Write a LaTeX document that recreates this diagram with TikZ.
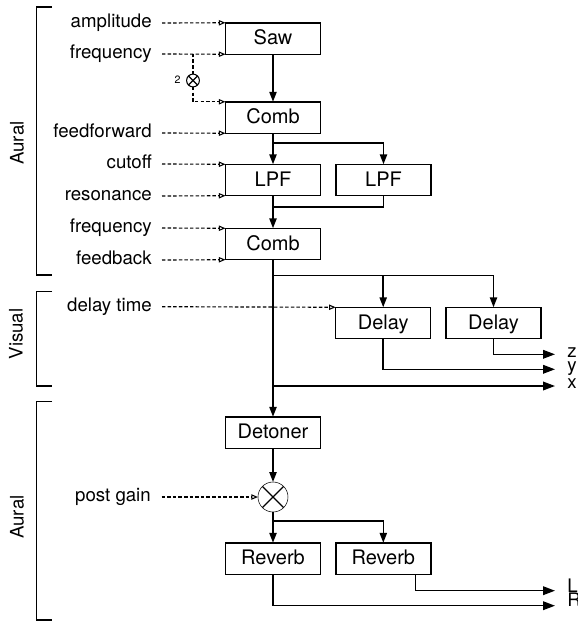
\documentclass[tikz,border=0pt]{standalone}
\usepackage{fontspec}
\setmainfont{TeX Gyre Heros}
\usetikzlibrary{arrows.meta}
\begin{document}
\begin{tikzpicture}[x=0.75pt,y=-0.75pt,
  lw/.style={line width=1.1pt},
  blk/.style={draw,lw,inner sep=0pt,outer sep=0pt,minimum width=71.25pt,minimum height=23.6pt,
     font=\fontsize{15}{17}\selectfont,text height=10.8pt,text depth=1.2pt},
  lbl/.style={inner sep=0pt,font=\fontsize{14}{16}\selectfont,text height=10pt,text depth=3pt},
  grp/.style={lbl,rotate=90},
  arr/.style={lw,-{Triangle[length=7.5pt,width=5.5pt]}},
  bigarr/.style={lw,-{Triangle[length=9pt,width=6.5pt]}},
  dashln/.style={line width=0.85pt,dash pattern=on 2.6pt off 1.6pt},
  dasharr/.style={dashln,-{Triangle[open,length=5pt,width=4pt,line width=0.8pt]}},
  mult/.style={circle,draw,inner sep=0pt,outer sep=0pt}
]
\useasboundingbox (0,0) rectangle (578,621);

% group brackets
\draw[lw] (52,7) -- (36.7,7) -- (36.7,275) -- (52,275);
\draw[lw] (52,291.7) -- (36.7,291.7) -- (36.7,386) -- (52,386);
\draw[lw] (52,401.7) -- (36.7,401.7) -- (36.7,620) -- (52,620);
\node[grp] (g1) at (19,143) {Aural};
\node[grp] (g2) at (18,334) {Visual};
\node[grp] (g3) at (19,517) {Aural};

% blocks
\node[blk] (saw) at (273,38.5) {Saw};
\node[blk] (comb1) at (273,117.5) {Comb};
\node[blk] (lpf1) at (273,180) {LPF};
\node[blk] (lpf2) at (383.5,180) {LPF};
\node[blk] (comb2) at (273,244) {Comb};
\node[blk] (delay1) at (383.2,323) {Delay};
\node[blk] (delay2) at (493.5,323) {Delay};
\node[blk] (detoner) at (273,432.5) {Detoner};
\node[blk] (reverb1) at (273,558.5) {Reverb};
\node[blk] (reverb2) at (383.3,558.5) {Reverb};
\node[mult,minimum size=22.5pt] (gain) at (273,497) {};
\draw[line width=0.9pt] (gain.north west) -- (gain.south east) (gain.north east) -- (gain.south west);
\node[mult,line width=0.8pt,minimum size=9.6pt] (dbl) at (193,80.5) {};
\draw[line width=0.8pt] (dbl.north west) -- (dbl.south east) (dbl.north east) -- (dbl.south west);
\node[inner sep=0pt,font=\fontsize{8}{9}\selectfont] (two) at (177.5,80) {2};

% parameter labels
\node[lbl,anchor=east] (amp) at (152,23) {amplitude};
\node[lbl,anchor=east] (freq1) at (152,54) {frequency};
\node[lbl,anchor=east] (ff) at (152,133) {feedforward};
\node[lbl,anchor=east] (cut) at (152,164) {cutoff};
\node[lbl,anchor=east] (res) at (152,196) {resonance};
\node[lbl,anchor=east] (freq2) at (152,228) {frequency};
\node[lbl,anchor=east] (fb) at (152,260) {feedback};
\node[lbl,anchor=east] (dt) at (152,306.7) {delay time};
\node[lbl,anchor=east] (pg) at (151,497) {post gain};

% dashed parameter connectors
\draw[dasharr] ([xshift=7.5pt]amp.east) -- (saw.north west);
\draw[dasharr] ([xshift=7.5pt]freq1.east) -- (saw.south west);
\draw[dashln] (dbl.north) -- (dbl.north |- freq1.east);
\draw[dasharr] (dbl.south) |- (comb1.north west);
\draw[dasharr] ([xshift=7.5pt]ff.east) -- (comb1.south west);
\draw[dasharr] ([xshift=7.5pt]cut.east) -- (lpf1.north west);
\draw[dasharr] ([xshift=7.5pt]res.east) -- (lpf1.south west);
\draw[dasharr] ([xshift=7.5pt]freq2.east) -- (comb2.north west);
\draw[dasharr] ([xshift=7.5pt]fb.east) -- (comb2.south west);
\draw[dasharr] ([xshift=7.5pt]dt.east) -- (delay1.north west);
\draw[dasharr] ([xshift=8pt]pg.east) -- (gain.west);

% signal flow
\coordinate (br3) at (273,143);
\coordinate (mg) at (273,207);
\coordinate (br1) at (273,275.5);
\coordinate (br2) at (273,386);
\coordinate (br4) at (273,521);
\coordinate (zend) at (555,354.3);
\coordinate (yend) at (555,369.3);
\coordinate (xend) at (555,386);
\coordinate (lend) at (555,590.7);
\coordinate (rend) at (555,605.7);

\draw[arr] (saw) -- (comb1);
\draw[arr] (comb1) -- (lpf1);
\draw[arr] (br3) -| (lpf2.north);
\draw[lw] (lpf2.south) |- (mg);
\draw[arr] (lpf1) -- (comb2);
\draw[arr] (comb2) -- (detoner);
\draw[arr] (br1) -| (delay1.north);
\draw[arr] (br1) -| (delay2.north);
\draw[bigarr] (delay2.south) |- (zend);
\draw[bigarr] (delay1.south) |- (yend);
\draw[bigarr] (br2) -- (xend);
\draw[arr] (detoner) -- (gain);
\draw[arr] (gain) -- (reverb1);
\draw[arr] (br4) -| (reverb2.north);
\draw[bigarr] ([xshift=24pt]reverb2.south) |- (lend);
\draw[bigarr] (reverb1.south) |- (rend);

% outputs
\node[lbl,anchor=west] (zl) at (567,352.5) {z};
\node[lbl,anchor=west] (yl) at (567,367) {y};
\node[lbl,anchor=west] (xl) at (567,383.5) {x};
\node[lbl,anchor=west] (ll) at (567,588) {L};
\node[lbl,anchor=west] (rl) at (567,602) {R};
\end{tikzpicture}
\end{document}
